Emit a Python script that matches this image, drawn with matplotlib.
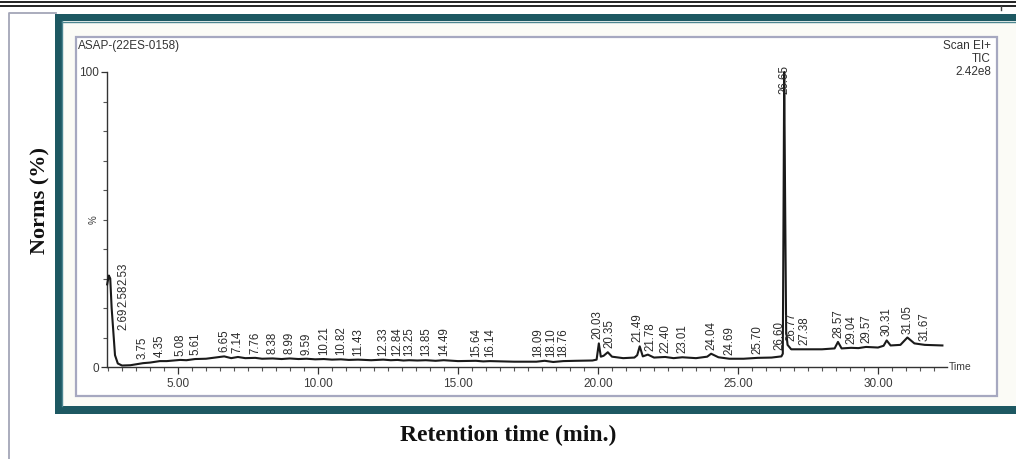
import numpy as np
import matplotlib
matplotlib.use("Agg")
import matplotlib.pyplot as plt
from matplotlib.patches import Rectangle
from matplotlib.lines import Line2D
from matplotlib.ticker import MultipleLocator, FixedLocator

# ---- chromatogram trace (retention time in min, relative intensity in %) ----
trace_time = [2.47, 2.53, 2.58, 2.63, 2.69, 2.75, 2.85, 3.00, 3.30, 3.75, 4.00, 4.35, 4.60,
              5.08, 5.30, 5.61, 6.00, 6.65, 6.90, 7.14, 7.40, 7.76, 8.00, 8.38, 8.70, 8.99,
              9.30, 9.59, 9.90, 10.21, 10.50, 10.82, 11.10, 11.43, 11.90, 12.33, 12.60,
              12.84, 13.05, 13.25, 13.55, 13.85, 14.20, 14.49, 15.00, 15.64, 15.90, 16.14,
              17.00, 17.80, 18.09, 18.10, 18.40, 18.76, 19.20, 19.80, 19.95, 20.03, 20.10,
              20.20, 20.35, 20.50, 20.90, 21.30, 21.40, 21.49, 21.60, 21.78, 22.00, 22.40,
              22.70, 23.01, 23.50, 23.90, 24.04, 24.30, 24.69, 25.20, 25.70, 26.20, 26.55,
              26.60, 26.63, 26.65, 26.68, 26.72, 26.77, 26.90, 27.38, 28.00, 28.45, 28.57,
              28.70, 29.04, 29.30, 29.57, 30.00, 30.20, 30.31, 30.45, 30.80, 31.05, 31.30,
              31.67, 32.30]
trace_intensity = [28.0, 31.0, 30.0, 20.0, 12.0, 4.0, 1.2, 0.5, 0.6, 1.3, 1.5, 2.0, 2.0,
                   2.4, 2.3, 2.7, 2.8, 3.6, 3.0, 3.4, 3.0, 3.1, 2.8, 2.9, 2.7, 2.9,
                   2.7, 2.8, 2.6, 2.7, 2.5, 2.6, 2.4, 2.5, 2.3, 2.5, 2.3,
                   2.4, 2.2, 2.3, 2.2, 2.3, 2.1, 2.3, 2.0, 2.1, 1.9, 2.0,
                   1.8, 1.8, 2.1, 2.1, 1.7, 2.0, 2.1, 2.2, 2.5, 8.0, 3.5,
                   3.8, 5.0, 3.5, 3.0, 3.2, 4.0, 7.0, 3.6, 4.2, 3.2, 3.4,
                   3.0, 3.3, 3.0, 3.5, 4.5, 3.3, 2.8, 2.8, 3.1, 3.2, 3.6,
                   4.5, 60.0, 100.0, 60.0, 12.0, 7.5, 6.0, 6.0, 6.0, 6.3, 8.5,
                   6.3, 6.5, 6.4, 6.8, 6.6, 7.2, 9.0, 7.3, 7.5, 10.0, 8.0,
                   7.5, 7.3]

# ---- peak annotations ----
stacked_peaks = [2.69, 2.58, 2.53]
peak_labels = [3.75, 4.35, 5.08, 5.61, 6.65, 7.14, 7.76, 8.38, 8.99, 9.59, 10.21, 10.82,
               11.43, 12.33, 12.84, 13.25, 13.85, 14.49, 15.64, 16.14, 18.09, 18.10, 18.76,
               20.03, 20.35, 21.49, 21.78, 22.40, 23.01, 24.04, 24.69, 25.70, 26.60, 26.77,
               27.38, 28.57, 29.04, 29.57, 30.31, 31.05, 31.67]
base_peak = 26.65

x_major = [5, 10, 15, 20, 25, 30]
x_major_labels = ["5.00", "10.00", "15.00", "20.00", "25.00", "30.00"]
y_major = [0, 100]
y_major_labels = ["0", "100"]

sample_name = "ASAP-(22ES-0158)"
scan_info = ["Scan EI+", "TIC", "2.42e8"]

W, H = 1016, 459
fig = plt.figure(figsize=(W / 100, H / 100), dpi=100)
fig.patch.set_facecolor("white")


def fx(x):
    return x / W


def fy(y):
    return 1 - y / H


def frect(x0, y0, x1, y1, **kw):
    r = Rectangle((fx(x0), fy(y1)), fx(x1) - fx(x0), fy(y0) - fy(y1),
                  transform=fig.transFigure, **kw)
    fig.add_artist(r)
    return r


def fline(xs, ys, **kw):
    ln = Line2D([fx(v) for v in xs], [fy(v) for v in ys], transform=fig.transFigure, **kw)
    fig.add_artist(ln)
    return ln


# page rules and outer box
fline([0, W], [2, 2], color="#222222", lw=1.4)
fline([0, W], [5.5, 5.5], color="#222222", lw=1.4)
fline([1001, 1001], [5.5, 10], color="#444444", lw=1.0)
fline([9, 9, 56], [H, 12.5, 12.5], color="#a4a6b8", lw=1.3)

# teal frame with light interior
frect(55, 14, W + 10, 414, facecolor="#1d5862", edgecolor="none", zorder=0)
frect(62, 21, W + 10, 406, facecolor="#fbfbf6", edgecolor="none", zorder=0)
fline([62, W], [21.5, 21.5], color="#4d8690", lw=1.0, zorder=0)
fline([61.5, 61.5], [21, 406], color="#4d8690", lw=1.0, zorder=0)

# inner plot box
frect(76, 37, 997, 396, facecolor="white", edgecolor="#a6a8c0", lw=1.6, zorder=0)

# axes region
ax_left, ax_right, ax_top, ax_bottom = 107, 947, 72, 367
ax = fig.add_axes([fx(ax_left), fy(ax_bottom), fx(ax_right) - fx(ax_left),
                   fy(ax_top) - fy(ax_bottom)])
ax.set_facecolor("none")
px_per_min = 28.0
t0 = (ax_left - 38) / px_per_min
t1 = (ax_right - 38) / px_per_min
ax.set_xlim(t0, t1)
ax.set_ylim(0, 100)

for s in ["top", "right"]:
    ax.spines[s].set_visible(False)
for s in ["left", "bottom"]:
    ax.spines[s].set_color("#333333")
    ax.spines[s].set_linewidth(1.0)

tick_font = dict(family=["Liberation Sans", "DejaVu Sans"], size=8.5, color="#3a3a3a")
ax.xaxis.set_major_locator(FixedLocator(x_major))
ax.set_xticklabels(x_major_labels, **tick_font)
ax.xaxis.set_minor_locator(MultipleLocator(0.5))
ax.yaxis.set_major_locator(FixedLocator(y_major))
ax.set_yticklabels(y_major_labels, **tick_font)
ax.yaxis.set_minor_locator(MultipleLocator(10))
ax.tick_params(axis="x", which="major", direction="out", length=5, width=0.9,
               color="#333333", pad=3)
ax.tick_params(axis="x", which="minor", direction="out", length=3, width=0.8,
               color="#555555")
ax.tick_params(axis="y", which="major", direction="out", length=4, width=0.9,
               color="#333333", pad=2)
ax.tick_params(axis="y", which="minor", direction="out", length=3, width=0.8,
               color="#555555")
ax.text(-0.016, 50, "%", transform=ax.get_yaxis_transform(), rotation=90,
        ha="center", va="center", fontsize=7, color="#3a3a3a",
        family=["Liberation Sans", "DejaVu Sans"])
ax.text(t1 + 0.05, 0, "Time", ha="left", va="center", fontsize=7.5, color="#3a3a3a",
        family=["Liberation Sans", "DejaVu Sans"], clip_on=False)

# trace
ax.plot(trace_time, trace_intensity, color="#1a1a1a", lw=1.5, solid_joinstyle="round",
        clip_on=False, zorder=3)

label_font = dict(family=["Liberation Sans", "DejaVu Sans"], size=8.3, color="#2a2a2a")


def level(rt):
    return float(np.interp(rt, trace_time, trace_intensity))


# spread crowded labels horizontally, keeping each cluster centred on its peaks
gap = 0.44
groups = []
for rt in sorted(peak_labels):
    groups.append([rt])
    while len(groups) > 1:
        a, b = groups[-2], groups[-1]
        ca, cb = np.mean(a), np.mean(b)
        end_a = ca + (len(a) - 1) * gap / 2
        start_b = cb - (len(b) - 1) * gap / 2
        if start_b - end_a < gap:
            groups[-2:] = [a + b]
        else:
            break
for g in groups:
    c = np.mean(g)
    n = len(g)
    for i, rt in enumerate(g):
        xpos = c + (i - (n - 1) / 2) * gap
        ax.annotate(f"{rt:.2f}", xy=(xpos, level(rt)), xytext=(0, 4),
                    textcoords="offset pixels", rotation=90, ha="center", va="bottom",
                    annotation_clip=False, **label_font)

# base peak label
ax.annotate(f"{base_peak:.2f}", xy=(base_peak, 100), xytext=(0, -22),
            textcoords="offset pixels", rotation=90, ha="center", va="bottom",
            annotation_clip=False, **label_font)

# stacked labels of the early cluster
fig.canvas.draw()
renderer = fig.canvas.get_renderer()
offset = 0.0
for rt in stacked_peaks:
    a = ax.annotate(f"{rt:.2f}", xy=(stacked_peaks[0], level(stacked_peaks[0])),
                    xytext=(10, 2 + offset), textcoords="offset pixels", rotation=90,
                    ha="center", va="bottom", annotation_clip=False, **label_font)
    fig.canvas.draw()
    offset += a.get_window_extent(renderer).height

# header texts
hdr_font = dict(family=["Liberation Sans", "DejaVu Sans"], size=8.5, color="#333333")
fig.text(fx(78), fy(46), sample_name, ha="left", va="center", **hdr_font)
for txt, yy in zip(scan_info, [46, 59, 72]):
    fig.text(fx(991), fy(yy), txt, ha="right", va="center", **hdr_font)

# axis titles
title_font = dict(family=["Liberation Serif", "DejaVu Serif"], weight="bold", color="#111111")
fig.text(fx(40), fy(200), "Norms (%)", rotation=90, ha="center", va="center",
         fontsize=16, **title_font)
fig.text(fx(508), fy(435), "Retention time (min.)", ha="center", va="center",
         fontsize=17, **title_font)

fig.savefig("out.png", dpi=100, facecolor="white")
